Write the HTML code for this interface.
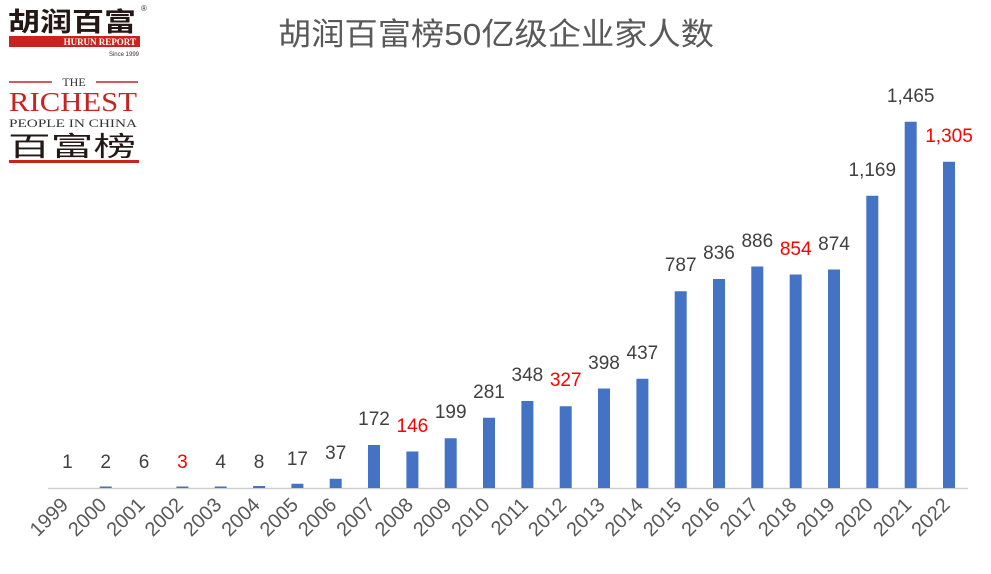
<!DOCTYPE html>
<html><head><meta charset="utf-8"><style>
body{margin:0;background:#fff;}
svg{display:block}
</style></head><body>
<svg width="991" height="574" xmlns="http://www.w3.org/2000/svg" font-family="Liberation Sans, Noto Sans CJK SC, sans-serif">
<rect width="991" height="574" fill="#fff"/>
<text x="8" y="31" font-size="26" font-weight="bold" fill="#231815" font-family="Noto Sans CJK SC, sans-serif" textLength="128" lengthAdjust="spacingAndGlyphs">胡润百富</text>
<text x="141" y="11" font-size="8" fill="#333">®</text>
<rect x="9" y="36" width="131" height="11" fill="#c8231f"/>
<text x="136" y="45" font-size="9" font-weight="bold" fill="#fff" text-anchor="end" font-family="Liberation Serif, serif">HURUN REPORT</text>
<text x="139" y="56" font-size="6" fill="#333" text-anchor="end">Since 1999</text>
<line x1="9" y1="82" x2="52" y2="82" stroke="#c8231f" stroke-width="1.5"/>
<line x1="96" y1="82" x2="138" y2="82" stroke="#c8231f" stroke-width="1.5"/>
<text x="74" y="86" font-size="12" fill="#333" text-anchor="middle" font-family="Liberation Serif, serif">THE</text>
<text x="73" y="111" font-size="27" fill="#c8231f" text-anchor="middle" font-family="Liberation Serif, serif" textLength="128" lengthAdjust="spacingAndGlyphs">RICHEST</text>
<text x="73" y="127" font-size="12" fill="#333" text-anchor="middle" font-family="Liberation Serif, serif" textLength="128" lengthAdjust="spacingAndGlyphs">PEOPLE IN CHINA</text>
<text x="8" y="156" font-size="27" fill="#231815" font-family="Noto Sans CJK SC, sans-serif" textLength="128" lengthAdjust="spacingAndGlyphs">百富榜</text>
<rect x="9" y="160" width="130" height="3" fill="#c8231f"/>
<text x="278" y="45" font-size="31" fill="#595959" textLength="436" lengthAdjust="spacingAndGlyphs">胡润百富榜50亿级企业家人数</text>
<line x1="48" y1="488.5" x2="968" y2="488.5" stroke="#d0d0d0" stroke-width="1.5"/>
<g fill="#4472c4">
<rect x="99.7" y="486.5" width="12" height="1.5"/>
<rect x="176.4" y="486.5" width="12" height="1.5"/>
<rect x="214.7" y="486.5" width="12" height="1.5"/>
<rect x="253.1" y="486" width="12" height="2"/>
<rect x="291.4" y="483.75" width="12" height="4.25"/>
<rect x="329.7" y="478.75" width="12" height="9.25"/>
<rect x="368" y="445" width="12" height="43"/>
<rect x="406.4" y="451.5" width="12" height="36.5"/>
<rect x="444.7" y="438.25" width="12" height="49.75"/>
<rect x="483" y="417.75" width="12" height="70.25"/>
<rect x="521.4" y="401" width="12" height="87"/>
<rect x="559.7" y="406.25" width="12" height="81.75"/>
<rect x="598" y="388.5" width="12" height="99.5"/>
<rect x="636.4" y="378.75" width="12" height="109.25"/>
<rect x="674.7" y="291.25" width="12" height="196.75"/>
<rect x="713" y="279" width="12" height="209"/>
<rect x="751.3" y="266.5" width="12" height="221.5"/>
<rect x="789.7" y="274.5" width="12" height="213.5"/>
<rect x="828" y="269.5" width="12" height="218.5"/>
<rect x="866.3" y="195.75" width="12" height="292.25"/>
<rect x="904.7" y="121.75" width="12" height="366.25"/>
<rect x="943" y="161.75" width="12" height="326.25"/>
</g>
<g font-size="19" text-anchor="middle" fill="#404040">
<text x="67.4" y="468">1</text>
<text x="105.7" y="468">2</text>
<text x="144.1" y="468">6</text>
<text x="182.4" y="468" fill="#ff0000">3</text>
<text x="220.7" y="468">4</text>
<text x="259.1" y="468">8</text>
<text x="297.4" y="465">17</text>
<text x="335.7" y="459">37</text>
<text x="374" y="425">172</text>
<text x="412.4" y="432" fill="#ff0000">146</text>
<text x="450.7" y="418">199</text>
<text x="489" y="398">281</text>
<text x="527.4" y="381">348</text>
<text x="565.7" y="386" fill="#ff0000">327</text>
<text x="604" y="369">398</text>
<text x="642.4" y="359">437</text>
<text x="680.7" y="271">787</text>
<text x="719" y="259">836</text>
<text x="757.3" y="247">886</text>
<text x="795.7" y="255" fill="#ff0000">854</text>
<text x="834" y="250">874</text>
<text x="872.3" y="176">1,169</text>
<text x="910.7" y="102">1,465</text>
<text x="949" y="142" fill="#ff0000">1,305</text>
</g>
<g font-size="20" text-anchor="end" fill="#595959">
<text transform="translate(69.4,506) rotate(-45)">1999</text>
<text transform="translate(107.7,506) rotate(-45)">2000</text>
<text transform="translate(146.1,506) rotate(-45)">2001</text>
<text transform="translate(184.4,506) rotate(-45)">2002</text>
<text transform="translate(222.7,506) rotate(-45)">2003</text>
<text transform="translate(261.1,506) rotate(-45)">2004</text>
<text transform="translate(299.4,506) rotate(-45)">2005</text>
<text transform="translate(337.7,506) rotate(-45)">2006</text>
<text transform="translate(376,506) rotate(-45)">2007</text>
<text transform="translate(414.4,506) rotate(-45)">2008</text>
<text transform="translate(452.7,506) rotate(-45)">2009</text>
<text transform="translate(491,506) rotate(-45)">2010</text>
<text transform="translate(529.4,506) rotate(-45)">2011</text>
<text transform="translate(567.7,506) rotate(-45)">2012</text>
<text transform="translate(606,506) rotate(-45)">2013</text>
<text transform="translate(644.4,506) rotate(-45)">2014</text>
<text transform="translate(682.7,506) rotate(-45)">2015</text>
<text transform="translate(721,506) rotate(-45)">2016</text>
<text transform="translate(759.3,506) rotate(-45)">2017</text>
<text transform="translate(797.7,506) rotate(-45)">2018</text>
<text transform="translate(836,506) rotate(-45)">2019</text>
<text transform="translate(874.3,506) rotate(-45)">2020</text>
<text transform="translate(912.7,506) rotate(-45)">2021</text>
<text transform="translate(951,506) rotate(-45)">2022</text>
</g>
</svg>
</body></html>
